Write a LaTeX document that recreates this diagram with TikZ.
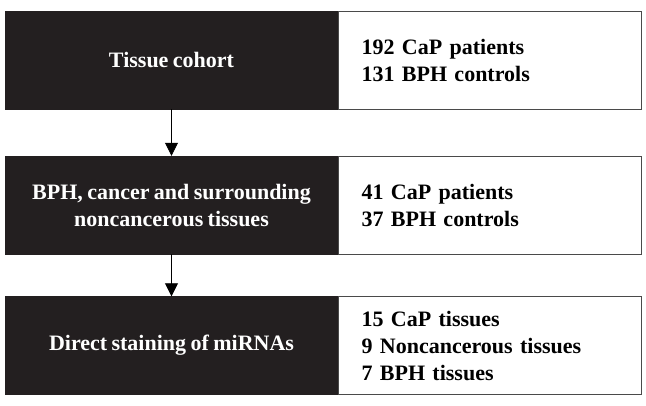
\documentclass[tikz,border=0pt]{standalone}
\usepackage{fontspec}
\setmainfont{Liberation Serif}[WordSpace=0.8]
\usetikzlibrary{arrows.meta,positioning}

\definecolor{boxblack}{HTML}{231F20}
\definecolor{boxedge}{HTML}{4A4A4A}

\begin{document}
\begin{tikzpicture}[x=1pt,y=1pt,
  stage/.style={fill=boxblack,draw=boxblack,text=white,minimum width=333pt,minimum height=98pt,
    align=center,font=\bfseries\fontsize{22}{27}\selectfont,inner sep=0pt},
  count/.style={fill=white,draw=boxedge,line width=0.8pt,minimum width=303pt,minimum height=98pt,
    text width=257pt,align=left,font=\bfseries\fontsize{22}{27}\selectfont,inner xsep=23pt,inner ysep=0pt},
  flow/.style={-{Triangle[width=13pt,length=13pt]},line width=0.8pt,shorten >=0pt}]
  \useasboundingbox (0,0) rectangle (646,-405);
  \node[stage] (cohort) at (171.5,-60)    {Tissue cohort};
  \node[stage] (tissues) at (171.5,-205)  {BPH, cancer and surrounding\\noncancerous tissues};
  \node[stage] (staining) at (171.5,-345.5) {Direct staining of miRNAs};
  \node[count,anchor=west] (n1) at (cohort.east)   {192 CaP patients\\131 BPH controls};
  \node[count,anchor=west] (n2) at (tissues.east)  {41 CaP patients\\37 BPH controls};
  \node[count,anchor=west] (n3) at (staining.east) {15 CaP tissues\\9 Noncancerous tissues\\7 BPH tissues};
  \draw[flow] (cohort.south) -- (tissues.north);
  \draw[flow] (tissues.south) -- (staining.north);
\end{tikzpicture}
\end{document}
